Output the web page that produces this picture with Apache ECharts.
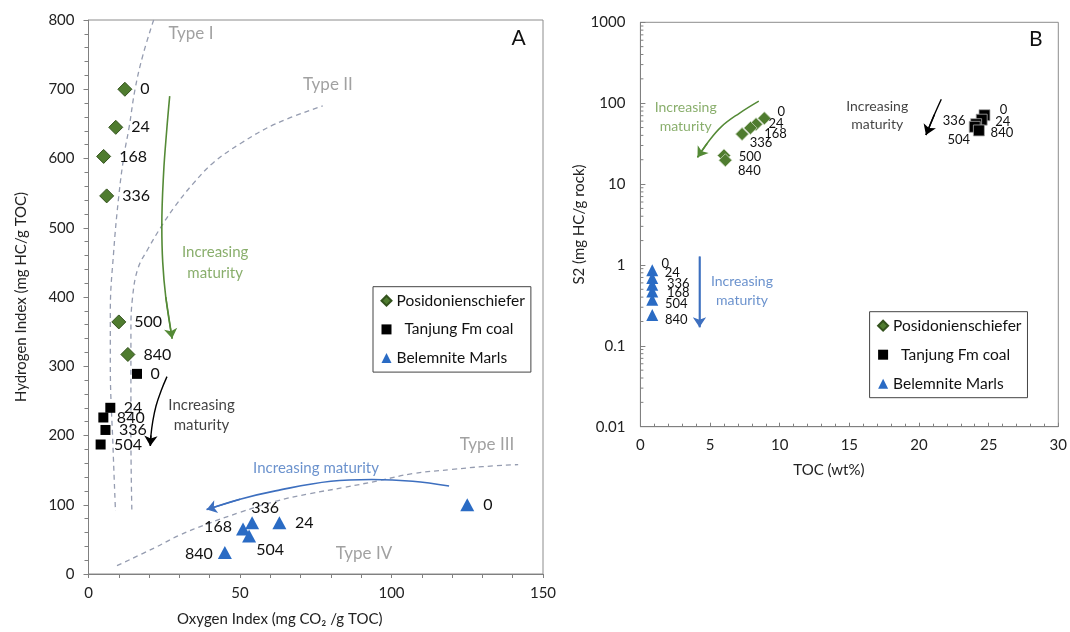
<!DOCTYPE html>
<html><head><meta charset="utf-8">
<script src="https://cdn.jsdelivr.net/npm/echarts@6/dist/echarts.min.js"></script>
<style>html,body{margin:0;padding:0;background:#fff}#c{width:1070px;height:632px}</style>
</head><body><div id="c"></div>
<script>
// ================= DATA =================
// Panel A : Oxygen Index (x) vs Hydrogen Index (y)
const posAgesA = ['0','24','168','336','500','840'];
const posOI    = [12, 9, 5, 6, 10, 13];
const posHI    = [700, 645, 603, 546, 364, 317];
const tanAgesA = ['0','24','840','336','504'];
const tanOI    = [16, 7.2, 4.9, 5.6, 4];
const tanHI    = [289, 240, 226, 208, 187];
const belAgesA = ['0','24','336','168','504','840'];
const belOI    = [125, 63, 54, 51, 53, 45];
const belHI    = [100, 74, 74, 65, 55, 31];

// kerogen type reference curves
const typeI   = [[21.5,800],[18,750],[15.4,701],[13.4,645],[11.7,604],[10,546],[8.3,465],[7.2,379],[7.2,302],[8.1,182],[8.9,91]];
const typeII  = [[14.3,93],[14,200],[14,350],[14.5,398],[16.3,441],[19.7,470],[24.2,503],[28.7,532],[34.4,563],[41.2,594],[50.3,622],[61.7,650],[77.3,676]];
const typeIII = [[9.4,12],[21.9,38],[30,56],[39,72],[50,89],[61.7,105],[73,116],[84.4,125],[96,135],[107,145],[120,151],[130,155],[141.8,158]];
const typeLabelsA = [['Type I',33.8,781],['Type II',79,707],['Type III',131.5,187],['Type IV',90.9,30]];

// maturity arrows panel A
const greenArrowA = [[26.8,690],[25.8,640],[24.8,580],[24.2,503],[24.5,450],[25.5,400],[27.6,340]];
const blackArrowA = [[25.9,285],[24,265],[22.3,243],[21.2,220],[20.6,200],[20.4,185]];
const blueArrowA  = [[119,127],[107,134],[93.5,136.5],[80,134],[61.7,120],[50,108],[39,93]];
const textGreenA = [41.8,450], textBlackA = [37.3,229], textBlueA = [75.1,153];

// Panel B : TOC (x) vs S2 (log y)
const posAgesB = ['0','24','168','336','500','840'];
const posTOC   = [8.9, 8.3, 7.9, 7.3, 6.0, 6.1];
const posS2    = [65, 55, 49.5, 41.5, 22.6, 19.7];
const tanAgesB = ['0','24','336','504','840'];
const tanTOC   = [24.7, 24.5, 24.1, 24.0, 24.3];
const tanS2    = [71, 62.5, 55, 51, 46];
const belAgesB = ['0','24','336','168','504','840'];
const belTOC   = [0.85, 0.85, 0.85, 0.85, 0.85, 0.85];
const belS2    = [0.86, 0.69, 0.57, 0.47, 0.37, 0.24];

const greenArrowB = [[8.5,106],[7.1,75],[5.8,51],[4.8,32],[4.1,21.4]];
const blackArrowB = [[21.6,112],[21.1,72],[20.5,40.5]];
const blueArrowB  = [[4.24,1.27],[4.24,0.17]];
const textGreenB = [3.25,68], textBlackB = [17.0,70.5], textBlueB = [7.29,0.474];

const legendNames = ['Posidonienschiefer','Tanjung Fm coal','Belemnite Marls'];

// ================= LAYOUT / STYLE =================
const FONT = 'Lato';
const GREEN = '#4f7c2f', BLUE = '#2a6bc4';
const GREEN_T = '#6b9a47', BLUE_T = '#4677c0', GRAY_T = '#8a8a8a';
const AXC = '#808080';

const posLabA = posAgesA.map(() => ({position:'right', distance:8}));
const tanLabA = tanAgesA.map(() => ({position:'right', distance:8.5}));
const belLabA = [{position:'right',distance:9},{position:'right',distance:8.5},
  {position:'inside',offset:[13,-15]},{position:'inside',offset:[-25,-2]},
  {position:'inside',offset:[21,14]},{position:'inside',offset:[-26,1]}];
const posLabB = [[17,-6],[20,0],[25,6],[19,9],[26,1],[24,11]].map(o=>({position:'inside',offset:o}));
const tanLabB = [[19,-5],[21,2],[-22,-3.5],[-16,13],[23,2]].map(o=>({position:'inside',offset:o}));
const belLabB = [[13,-6],[20,-5],[26,-1],[26,1],[24,4],[24,5]].map(o=>({position:'inside',offset:o}));

function pts(xs, ys, ages, labs, fs) {
  return xs.map((x,i) => ({value:[x, ys[i]], name: ages[i],
    label: Object.assign({show:true, formatter:'{b}', fontSize:fs, color:'#111', fontFamily:FONT}, labs[i])}));
}
function scatter(name, g, data, symbol, size, color, border, bw) {
  return {type:'scatter', name, xAxisIndex:g, yAxisIndex:g, data, symbol, symbolSize:size,
    itemStyle:{color, borderColor:border, borderWidth:bw, opacity:1}, z:5,
    emphasis:{disabled:true}};
}
function curve(g, data, color, dashed, width) {
  return {type:'line', xAxisIndex:g, yAxisIndex:g, data, smooth:0.4, showSymbol:false, symbol:'none',
    lineStyle:{color, width, type: dashed ? [5,4] : 'solid'}, z:2, silent:true, clip:true};
}
function head(g, data, color) {
  const n = data.length;
  return {type:'lines', coordinateSystem:'cartesian2d', xAxisIndex:g, yAxisIndex:g,
    data:[{coords:[data[n-2], data[n-1]]}], symbol:['none','arrow'], symbolSize:[7,10],
    lineStyle:{color, width:1.5, opacity:1}, z:3, silent:true};
}
function texts(g, items, color, fs, lh) {
  return {type:'scatter', xAxisIndex:g, yAxisIndex:g, symbolSize:0, silent:true, z:4,
    data: items.map(t => ({value:[t[1], t[2]], name:t[0]})),
    label:{show:true, position:'inside', formatter:'{b}', color, fontSize:fs, lineHeight:lh,
      fontFamily:FONT, align:'center', verticalAlign:'middle'}};
}

const logMinor = [];
for (let e = -2; e < 3; e++) for (let m = 2; m < 10; m++) logMinor.push(+(m*Math.pow(10,e)).toPrecision(3));

const chart = echarts.init(document.getElementById('c'), null, {renderer:'canvas'});
const axisCommon = {
  axisLine:{show:true, onZero:false, lineStyle:{color:AXC, width:1}},
  splitLine:{show:false}, minorSplitLine:{show:false},
  axisLabel:{color:'#222', fontSize:15, fontFamily:FONT},
  nameTextStyle:{color:'#222', fontSize:15, fontFamily:FONT},
  nameLocation:'middle'
};
function ax(o){ return Object.assign({}, JSON.parse(JSON.stringify(axisCommon)), o,
  {axisLabel:Object.assign({}, axisCommon.axisLabel, o.axisLabel||{}),
   nameTextStyle:Object.assign({}, axisCommon.nameTextStyle, o.nameTextStyle||{})}); }

const option = {
  animation:false,
  backgroundColor:'#fff',
  textStyle:{fontFamily:FONT},
  grid:[
    {left:88.5, top:20, width:454.5, height:556.7, show:true, borderColor:'#8c8c8c', borderWidth:1, backgroundColor:'transparent'},
    {left:640.4, top:22.3, width:421.6, height:404.4, show:true, borderColor:'#8c8c8c', borderWidth:1, backgroundColor:'transparent'}
  ],
  xAxis:[
    ax({type:'value', gridIndex:0, min:0, max:150, interval:50,
      axisTick:{show:true, inside:false, length:4, lineStyle:{color:AXC}},
      minorTick:{show:true, splitNumber:5, length:4, lineStyle:{color:AXC}},
      axisLabel:{margin:12},
      name:'Oxygen Index (mg CO\u2082 /g TOC)', nameGap:38, nameTextStyle:{padding:[0,72,0,0]}}),
    ax({type:'value', gridIndex:1, min:0, max:30, interval:5,
      axisTick:{show:true, inside:true, length:4, lineStyle:{color:AXC}},
      minorTick:{show:true, splitNumber:5, length:3, lineStyle:{color:AXC}},
      axisLabel:{margin:11},
      name:'TOC (wt%)', nameGap:36, nameTextStyle:{padding:[0,41,0,0]}})
  ],
  yAxis:[
    ax({type:'value', gridIndex:0, min:0, max:800, interval:100,
      axisTick:{show:true, inside:false, length:5, lineStyle:{color:AXC}},
      minorTick:{show:true, splitNumber:5, length:4, lineStyle:{color:AXC}},
      axisLabel:{margin:14},
      name:'Hydrogen Index (mg HC/g TOC)', nameGap:60, nameRotate:90}),
    ax({type:'log', logBase:10, gridIndex:1, min:0.01, max:1000,
      axisTick:{show:true, inside:true, length:5, lineStyle:{color:AXC}},
      axisLabel:{margin:15, formatter: v => String(+(+v).toPrecision(6))},
      name:'S2 (mg HC/g rock)', nameGap:48, nameRotate:90})
  ],
  legend:[
    {left:373, top:286.7, orient:'vertical', padding:[5,6,5,7.5], itemGap:10.7, itemWidth:10, itemHeight:10,
     borderColor:'#444', borderWidth:1, backgroundColor:'#fff', selectedMode:false,
     textStyle:{fontSize:15.5, lineHeight:18, color:'#111', fontFamily:FONT},
     formatter: n => n === 'Tanjung Fm coal' ? '  ' + n : n,
     data:[{name:legendNames[0], icon:'diamond'},{name:legendNames[1], icon:'rect'},{name:legendNames[2], icon:'triangle'}]},
    {left:869.6, top:311.7, orient:'vertical', padding:[5,6,5,7.5], itemGap:11, itemWidth:10, itemHeight:10,
     borderColor:'#444', borderWidth:1, backgroundColor:'#fff', selectedMode:false,
     textStyle:{fontSize:15.5, lineHeight:18, color:'#111', fontFamily:FONT},
     formatter: n => n === 'Tanjung Fm coal' ? '  ' + n : n,
     data:[{name:legendNames[0], icon:'diamond'},{name:legendNames[1], icon:'rect'},{name:legendNames[2], icon:'triangle'}]}
  ],
  graphic:[
    {type:'text', left:511.5, top:28, style:{text:'A', fontSize:21, fontFamily:FONT, fill:'#111'}},
    {type:'text', left:1029, top:29, style:{text:'B', fontSize:21, fontFamily:FONT, fill:'#111'}}
  ],
  series:[
    // panel A curves
    curve(0, typeI, '#959cb0', true, 1.3),
    curve(0, typeII, '#959cb0', true, 1.3),
    curve(0, typeIII, '#959cb0', true, 1.3),
    texts(0, typeLabelsA, GRAY_T, 17, 20),
    // panel A arrows
    curve(0, greenArrowA, '#548a36', false, 1.6), head(0, greenArrowA, '#548a36'),
    curve(0, blackArrowA, '#000', false, 1.4), head(0, blackArrowA, '#000'),
    curve(0, blueArrowA, '#3d6fbf', false, 1.6), head(0, blueArrowA, '#3d6fbf'),
    texts(0, [['Increasing\nmaturity', textGreenA[0], textGreenA[1]]], GREEN_T, 15, 21),
    texts(0, [['Increasing\nmaturity', textBlackA[0], textBlackA[1]]], '#111', 15, 20),
    texts(0, [['Increasing maturity', textBlueA[0], textBlueA[1]]], BLUE_T, 15, 20),
    // panel A points
    scatter(legendNames[0], 0, pts(posOI, posHI, posAgesA, posLabA, 16), 'diamond', 14, GREEN, '#33521d', 1),
    scatter(legendNames[1], 0, pts(tanOI, tanHI, tanAgesA, tanLabA, 16), 'rect', 10, '#000', '#000', 0),
    scatter(legendNames[2], 0, pts(belOI, belHI, belAgesA, belLabA, 16), 'triangle', [14,13], BLUE, BLUE, 0),
    // panel B arrows
    curve(1, greenArrowB, '#548a36', false, 1.5), head(1, greenArrowB, '#548a36'),
    curve(1, blackArrowB, '#000', false, 1.4), head(1, blackArrowB, '#000'),
    curve(1, blueArrowB, '#3d6fbf', false, 1.6), head(1, blueArrowB, '#3d6fbf'),
    texts(1, [['Increasing\nmaturity', textGreenB[0], textGreenB[1]]], GREEN_T, 14, 19),
    texts(1, [['Increasing\nmaturity', textBlackB[0], textBlackB[1]]], '#111', 14, 18),
    texts(1, [['Increasing\nmaturity', textBlueB[0], textBlueB[1]]], BLUE_T, 14, 19),
    // panel B log minor ticks
    {type:'custom', xAxisIndex:1, yAxisIndex:1, silent:true, z:1, clip:false,
     data: logMinor.map(v => [0, v]), encode:{x:0, y:1},
     renderItem:(params, api) => {
       const p = api.coord([0, api.value(1)]);
       return {type:'line', shape:{x1:p[0], y1:p[1], x2:p[0]+3, y2:p[1]}, style:{stroke:AXC, lineWidth:1}};
     }},
    // panel B points
    scatter(legendNames[0], 1, pts(posTOC, posS2, posAgesB, posLabB, 13), 'diamond', 13, GREEN, '#c8d6bb', 0.8),
    scatter(legendNames[1], 1, pts(tanTOC, tanS2, tanAgesB, tanLabB, 13), 'rect', 11, '#000', '#aaa', 0.8),
    scatter(legendNames[2], 1, pts(belTOC, belS2, belAgesB, belLabB, 13), 'triangle', [12,12], BLUE, BLUE, 0)
  ]
};
chart.setOption(option);
</script>
</body></html>
